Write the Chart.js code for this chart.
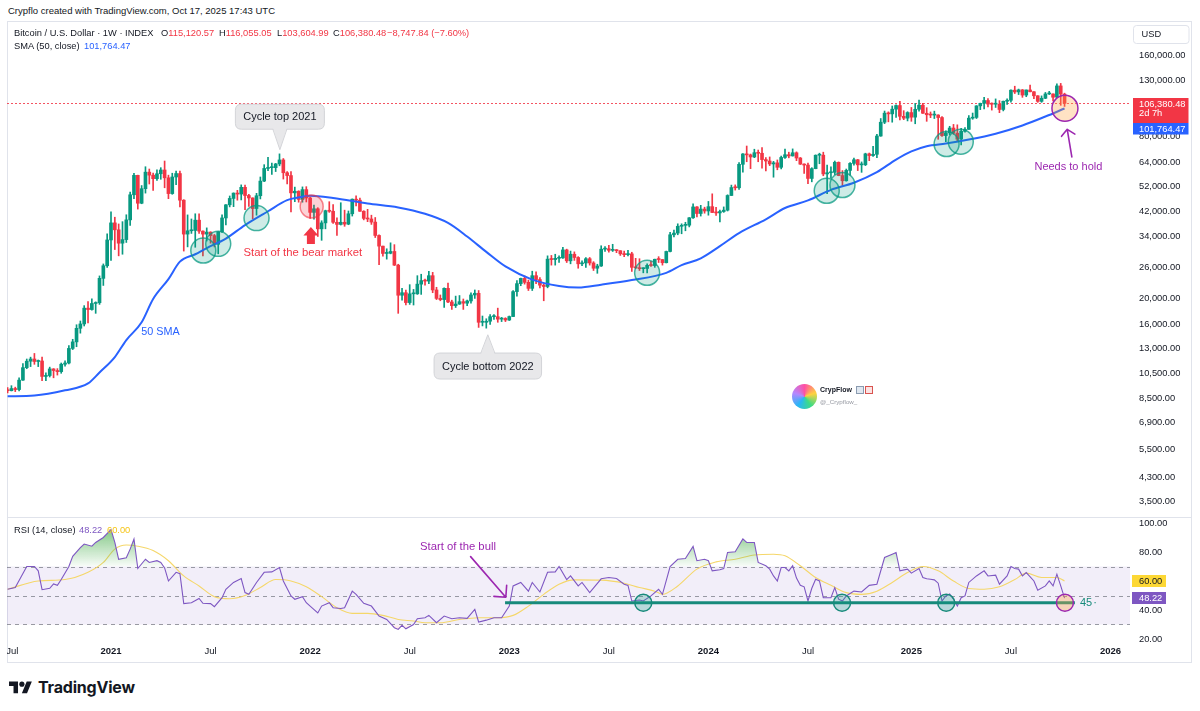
<!DOCTYPE html>
<html><head><meta charset="utf-8"><title>Bitcoin / U.S. Dollar 1W</title>
<script src="https://cdn.jsdelivr.net/npm/chart.js@4.4.1/dist/chart.umd.min.js"></script>
<style>
html,body{margin:0;padding:0;background:#fff}
body{position:relative;width:1200px;height:711px;overflow:hidden;font-family:"Liberation Sans",Arial,sans-serif;color:#131722}
.t{position:absolute;white-space:nowrap;font-size:9.3px;line-height:12px;z-index:5}
.r{color:#F23645}.b{color:#2962FF}
#frame{position:absolute;left:7px;top:21px;width:1185px;height:642px;border:1px solid #e0e3eb;box-sizing:border-box}
canvas{position:absolute}
#main{left:7px;top:21px}
#rsi{left:7px;top:517px}
#sep{position:absolute;left:7px;top:517px;width:1185px;height:1px;background:#e0e3eb;z-index:4}
</style></head><body>
<div class="t" style="left:8px;top:5px;font-size:9.5px">Crypflo created with TradingView.com, Oct 17, 2025 17:43 UTC</div>
<div id="frame"></div>
<canvas id="main" width="1185" height="496"></canvas>
<canvas id="rsi" width="1185" height="146"></canvas>
<div id="sep"></div>
<div class="t" style="left:14px;top:27px">Bitcoin / U.S. Dollar · 1W · INDEX</div>
<div class="t" id="lgO" style="left:161px;top:27px"></div>
<div class="t" id="lgH" style="left:219px;top:27px"></div>
<div class="t" id="lgL" style="left:277px;top:27px"></div>
<div class="t" id="lgC" style="left:333px;top:27px"></div>
<div class="t r" id="lgChg" style="left:387px;top:27px"></div>
<div class="t" style="left:14px;top:40px">SMA (50, close)</div>
<div class="t b" id="lgSma" style="left:84px;top:40px"></div>
<div class="t" style="left:14px;top:524px">RSI (14, close)</div>
<div class="t" id="lgRsi" style="left:79px;top:524px;color:#7E57C2"></div>
<div class="t" id="lgMa" style="left:107px;top:524px;color:#F5C518"></div>

<!-- watermark -->
<div style="position:absolute;left:792px;top:384px;width:25px;height:25px;border-radius:50%;background:conic-gradient(#ff4fa3,#ffd23f,#3ddc84,#29b6f6,#b388ff,#ff4fa3);z-index:3"></div>
<div class="t" style="left:820px;top:384px;font-size:7px;font-weight:bold">CrypFlow</div>
<div style="position:absolute;left:856px;top:386px;width:6px;height:6px;border:1px solid #8a9bb0;background:#dfe7f0;z-index:3"></div>
<div style="position:absolute;left:865px;top:386px;width:6px;height:6px;border:1px solid #d9534f;background:#fbe3e3;z-index:3"></div>
<div class="t" style="left:820px;top:396px;font-size:6.2px;color:#9598a1">@_Crypflow_</div>

<!-- TradingView logo -->
<svg style="position:absolute;left:9px;top:679px" width="23.2" height="18" viewBox="0 0 36 28"><path fill="#131722" d="M14 22H7V11H0V4h14v18zM28 22h-8l7.5-18h8L28 22z"/><circle fill="#131722" cx="20" cy="8" r="4"/></svg>
<div style="position:absolute;left:38px;top:677px;font-size:16px;font-weight:bold;color:#131722;font-family:Inter,'Liberation Sans',Arial,sans-serif;letter-spacing:-0.2px">TradingView</div>

<script>
// ---------------- DATA (weekly bars, first bar = week of 2020-06-29) ----------------
const firstWeek = '2020-06-29';
const opens = [9140,9070,9240,9160,9930,11050,11680,11900,11650,11700,
10250,10330,10930,10780,10680,11380,11500,13030,13780,15480,
16070,18400,18180,19150,19270,23750,26460,33000,38200,36000,
32100,33100,39200,48600,57400,45200,51200,59000,57500,55800,
58200,60100,56200,49100,56600,58300,46400,34700,35700,35800,
39100,35600,34700,35300,34250,31800,35400,39850,44600,47100,
49300,48900,51800,48300,47300,43200,48200,54650,60900,61300,
61320,63300,65500,58700,57300,49400,50100,46700,50800,47300,
41800,43100,36300,38200,42400,42200,38400,37700,38400,37800,
41300,46800,46400,42200,39700,39500,38460,34300,31300,29400,
29450,29900,26600,20550,21000,19300,20800,20800,22600,23300,
23200,24300,21500,20000,19800,21800,19400,18800,19050,19450,
19200,19570,20600,20900,16300,16300,16450,17100,17100,16750,
16850,16620,17120,21200,22700,23740,22950,21800,24300,23500,
22400,22150,28000,27900,28200,28300,30300,27600,29200,28400,
26900,27100,28100,27100,25900,26400,30500,30600,30200,30200,
30100,29300,29100,29300,26100,26000,25800,25850,26550,26500,
27970,27900,27150,29900,34500,35000,37100,37400,37450,39900,
43800,41400,43000,42300,43900,41750,41600,42100,42600,48300,
51700,51600,63100,68950,68400,67200,69700,69350,65700,64900,
63300,63900,61500,66900,68500,67800,69650,66600,63200,62700,
55900,60800,68200,68250,58100,58700,58900,64200,57300,54800,
59900,63600,65600,62800,62850,69000,68000,68750,80400,90500,
97800,97200,101200,104400,95200,93700,98300,94500,101100,104700,
97700,96500,96200,96250,94200,80700,82600,86100,82400,78300,
83700,85100,93700,94300,104100,106400,109000,105700,105600,105600,
100950,108300,109200,119100,117300,119400,114200,119300,117500,113500,
108200,111100,115300,115300,112100,123500,115120.57];
const highs = [9310,9470,9350,10130,11450,11900,12090,12480,11800,12090,
10580,11100,10960,10960,11500,11720,13350,14090,15960,16480,
18800,19480,19920,19420,24250,26870,34800,41950,40100,37850,
38600,40950,49700,58350,57500,52600,61800,60600,58500,60200,
61300,64900,57500,58450,59600,59600,46600,40900,39500,41300,
41300,35700,36600,35400,34600,35400,40900,44700,48100,49400,
50500,52900,52800,48800,47350,49200,56600,62900,67000,63700,
63600,69000,66300,59300,59300,51900,50300,52000,52100,47600,
44500,43500,38900,42600,45800,44700,39900,45400,42600,42300,
46900,48200,47200,42400,42900,40800,40000,34500,31300,30600,
32200,31700,26800,21800,21500,22500,21600,24300,24600,23600,
25200,25000,22000,20600,21900,22800,19700,20400,20500,19900,
19700,21000,21500,21400,17200,16800,17400,17400,18400,17000,
16950,17200,21400,23300,23800,24250,23400,25250,25100,23900,
22600,28800,28900,29200,28800,31000,30500,30000,29800,28600,
27600,28400,28400,27400,26800,31400,31200,31500,31800,30400,
30100,30000,30200,29700,28200,28100,26000,26900,27500,28000,
28600,27900,30000,35200,35900,37900,37900,38400,40000,45000,
43900,44400,43700,45900,49000,43600,42600,43800,48600,52800,
52900,64000,69200,73800,68900,71800,71300,72800,66800,67200,
64700,65500,67700,71900,70000,72000,70200,66900,63400,63800,
61300,68400,69400,70000,62700,61800,64900,64400,59800,60600,
64100,66500,65800,64400,69400,69500,73600,81500,93400,99600,
98900,104000,105000,108300,99900,99000,102700,106300,109500,106400,
102500,98800,99500,96500,95000,84000,87400,88800,88500,85900,
86500,95800,97900,104300,106600,111900,110700,106800,110500,108900,
108500,110600,119500,123200,120200,119800,119300,124500,117600,113600,
113400,116800,117900,115500,125700,126200,116055.05];
const lows = [8900,9050,9000,9050,9900,10950,11150,11370,11150,9890,
9880,10200,10130,10370,10530,11200,11400,12900,13220,14850,
15790,16200,18100,17600,19000,22350,26100,27700,30400,28800,
29200,32300,37400,47050,43000,45000,49300,53300,50400,55000,
55500,51600,47000,48800,53000,43800,30000,31100,34900,31000,
34900,28800,32700,32100,31100,29300,35200,37500,43800,43900,
46400,46500,42800,44000,39600,40800,46900,54400,59700,57800,
59300,62300,55600,53300,42000,45800,45600,45600,45700,39700,
39400,34000,32900,36300,41800,38000,34300,37500,37100,37600,
40500,44200,42100,39200,38600,37700,33700,26700,28700,28000,
29300,26500,17600,19700,18900,19000,18900,20700,20700,22400,
22700,21000,19800,19600,18500,19300,18200,18500,19000,18200,
18800,19200,20000,15600,15800,15500,16000,16700,16300,16400,
16400,16550,17100,20400,22300,22600,21400,21400,22700,21900,
19600,21900,26600,26600,27200,28200,27200,26900,27700,25900,
26500,26100,26600,25400,24800,26300,29900,29700,29900,29600,
28900,28600,28800,25200,25800,25400,24900,24900,26300,26100,
27200,26600,27100,29800,33900,34500,34800,35700,36900,39700,
40200,40500,41500,40800,41700,40700,38500,41800,42300,48300,
50600,50900,59000,64500,60800,66800,64500,61000,59600,62400,
56500,60200,60700,66300,66700,67700,65100,63000,58400,53500,
54300,60700,63400,57200,49100,56100,57800,57200,52600,54600,
57500,62700,59800,58900,62400,65100,67500,66800,80200,89400,
90800,90500,94200,92200,92500,91500,91200,89300,99500,97500,
91200,94100,93400,78200,80100,76600,81200,81600,77100,74500,
83100,85100,92800,93400,100800,101500,103100,100400,102700,98200,
99700,105300,107500,115700,114700,112000,112600,117200,110700,107300,
107300,110700,114700,108700,111600,104600,103604.99];
const closes = [9070,9240,9160,9930,11050,11680,11900,11650,11700,10250,
10330,10930,10780,10680,11380,11500,13030,13780,15480,16070,
18400,18180,19150,19270,23750,26460,33000,38200,36000,32100,
33100,39200,48600,57400,45200,51200,59000,57500,55800,58200,
60100,56200,49100,56600,58300,46400,34700,35700,35800,39100,
35600,34700,35300,34250,31800,35400,39850,44600,47100,49300,
48900,51800,48300,47300,43200,48200,54650,60900,61300,61320,
63300,65500,58700,57300,49400,50100,46700,50800,47300,41800,
43100,36300,38200,42400,42200,38400,37700,38400,37800,41300,
46800,46400,42200,39700,39500,38460,34300,31300,29400,29450,
29900,26600,20550,21000,19300,20800,20800,22600,23300,23200,
24300,21500,20000,19800,21800,19400,18800,19050,19450,19200,
19570,20600,20900,16300,16300,16450,17100,17100,16750,16850,
16620,17120,21200,22700,23740,22950,21800,24300,23500,22400,
22150,28000,27900,28200,28300,30300,27600,29200,28400,26900,
27100,28100,27100,25900,26400,30500,30600,30200,30200,30100,
29300,29100,29300,26100,26000,25800,25850,26550,26500,27970,
27900,27150,29900,34500,35000,37100,37400,37450,39900,43800,
41400,43000,42300,43900,41750,41600,42100,42600,48300,51700,
51600,63100,68950,68400,67200,69700,69350,65700,64900,63300,
63900,61500,66900,68500,67800,69650,66600,63200,62700,55900,
60800,68200,68250,58100,58700,58900,64200,57300,54800,59900,
63600,65600,62800,62850,69000,68000,68750,80400,90500,97800,
97200,101200,104400,95200,93700,98300,94500,101100,104700,97700,
96500,96200,96250,94200,80700,82600,86100,82400,78300,83700,
85100,93700,94300,104100,106400,109000,105700,105600,105600,100950,
108300,109200,119100,117300,119400,114200,119300,117500,113500,108200,
111100,115300,115300,112100,123500,115128.32,106380.48];

// SMA(50, close) (week index, value)
const smaWeek = [0,7,15,21,24,28,31,35,38,42,45,49,52,57,62,68,73,77,79,85,94,102,109,115,120,125,130,137,144,149,155,163,172,176,181,186,191,198,203,209,215,221,227,232,236,240,245,251,258,265,271,276];
const smaVal  = [8650,8700,9100,9650,10600,12100,14000,16300,19900,23600,27400,29200,30800,33400,37500,42200,46400,47800,48200,47300,45100,43600,41300,38200,34000,29800,26300,23500,22250,21960,22500,23400,24900,26600,28200,31300,35000,39400,43400,46300,50700,53900,59000,65700,70500,73700,75400,78000,82000,88000,95000,101764.47];

// RSI(14, close) (week index, value)
const rsiWeek = [0,2,5,7,8,9,11,12,13,14,16,17,19,20,22,23,25,27,28,29,31,32,33,34,36,37,39,40,41,42,44,45,46,48,50,51,53,54,56,57,59,61,62,63,65,67,69,71,72,74,75,77,78,79,81,82,84,85,87,88,90,91,93,95,97,99,101,102,103,104,106,107,109,110,112,114,116,118,120,122,123,125,127,129,131,132,134,136,137,139,141,143,144,146,147,149,150,152,155,157,159,161,162,163,165,166,168,170,171,173,175,177,179,180,182,183,184,186,187,188,190,192,193,195,196,198,199,200,201,202,203,204,205,206,207,208,209,210,211,212,213,214,215,216,217,218,219,221,223,225,227,229,231,232,233,235,236,238,239,240,241,242,243,244,245,246,247,248,249,250,251,253,255,256,258,259,261,262,263,264,265,266,268,269,271,272,273,274,275,276];
const rsiVal  = [54.3,55.5,70,70,67,54,55,58,57,61,70,77,83,85.5,84,86.6,90,95.4,86.6,75,76,82,89,68.6,75,72.8,74,72.8,69,60,66,65,44.4,45,48,44.6,44.4,42.3,48.5,54.3,59,61.7,52,50.8,59,66,66.3,69.3,60,49.7,47.4,49.2,45,42.7,38,42.7,45,41.6,41,41.6,53,50.8,44.6,42.7,35.8,33.5,27.8,26.6,29.4,27,30,34,34.7,36.3,31.2,35.8,34,34.7,34.2,40.4,31.7,33,34.7,34.7,42.7,56.6,59,53,59,52.4,66,66.3,70,61,63.5,56.6,59,52,61.5,62.4,61.7,57.8,57,46.2,46.9,46.2,49.7,54.3,50.8,70,75,75.5,83.9,74,75,74,67,67.7,68.6,79.7,80.2,89,86.6,86.6,72.8,70.5,68.2,63.5,60,69.3,69.3,67,70.5,62,57,56,46.2,55,61.2,60,48.5,48.5,48.5,55.5,47.5,46.2,49.7,53,52.4,57,57.8,76.2,78.5,79.7,67,68.2,65.4,68.6,62.4,61.5,61.2,60.8,58.5,46.2,49.7,51,47.4,42.7,48.5,49.7,59,63.5,67,63.5,64,57.8,63.5,70,68.6,68.2,63.5,65.8,60,53.6,56.6,60,56.6,64.7,56.6,48.22];

// RSI-based MA(14)
const rsiMaWeek = [0,8,15,21,25,28,31,34,38,42,46,50,54,58,62,66,70,74,78,82,86,90,94,98,102,106,109,113,118,123,128,132,136,140,144,148,155,161,165,169,171,175,180,185,190,195,200,203,207,211,215,219,223,227,231,235,239,243,247,251,255,259,263,266,270,274,276];
const rsiMaVal  = [54.3,60,61,66,72.8,82,84.8,84,81,74,63.5,56.6,49.2,47.8,50,55.5,61,60,56,49.2,41.6,37.7,37.7,36.3,33.5,32.4,31.2,31.2,33.5,34.7,34.7,36.3,42.7,50.8,57.8,60.8,60.6,58.5,55.5,53,50.8,56.6,68.2,73.2,75,77.9,78.5,77.4,70.5,62.4,57,52,50.8,53,59,65.8,70,67,60,54.8,54.3,56,61,65.4,62.4,62.4,60];

const priceTicks = [3500,4300,5500,6900,8500,10500,13000,16000,20000,26000,34000,42000,52000,64000,80000,130000,160000];
const rsiTicks = [20,40,60,80,100];
const timeTickWeek  = [1.25,27,53,79,105,131,157,183,209,236,262,288];
const timeTickLabel = ['Jul','2021','Jul','2022','Jul','2023','Jul','2024','Jul','2025','Jul','2026'];
const barCountdown = '2d 7h';

// ---------------- layout / style ----------------
const FONT = '"Liberation Sans", Arial, sans-serif';
Chart.defaults.font.family = FONT;
Chart.defaults.color = '#131722';
const X_MIN = -0.157, X_MAX = 293.09;
const Y_MIN = 3073.8, Y_MAX = 215400;
const R_MIN = 17.93, R_MAX = 104.14;
const UP = '#089981', DOWN = '#F23645', SMA_C = '#2962FF', RSI_C = '#7E57C2', MA_C = '#F5D76A', TEAL = '#178a7b', PURPLE = '#9c27b0';
const fmt2 = v => v.toLocaleString('en-US',{minimumFractionDigits:2, maximumFractionDigits:2});
const last = closes.length - 1;
const candleColors = closes.map((c,i) => c >= opens[i] ? UP : DOWN);

// legends
const chg = closes[last] - closes[last-1];
const pct = chg / closes[last-1] * 100;
document.getElementById('lgO').innerHTML = 'O<span class="r">' + fmt2(opens[last]) + '</span>';
document.getElementById('lgH').innerHTML = 'H<span class="r">' + fmt2(highs[last]) + '</span>';
document.getElementById('lgL').innerHTML = 'L<span class="r">' + fmt2(lows[last]) + '</span>';
document.getElementById('lgC').innerHTML = 'C<span class="r">' + fmt2(closes[last]) + '</span>';
document.getElementById('lgChg').textContent = '\u2212' + fmt2(Math.abs(chg)) + ' (\u2212' + Math.abs(pct).toFixed(2) + '%)';
document.getElementById('lgSma').textContent = fmt2(smaVal[smaVal.length-1]);
document.getElementById('lgRsi').textContent = rsiVal[rsiVal.length-1].toFixed(2);
document.getElementById('lgMa').textContent = rsiMaVal[rsiMaVal.length-1].toFixed(2);

// ---------------- drawing helpers ----------------
function rr(ctx,x,y,w,h,r){ctx.beginPath();ctx.moveTo(x+r,y);ctx.lineTo(x+w-r,y);ctx.quadraticCurveTo(x+w,y,x+w,y+r);ctx.lineTo(x+w,y+h-r);ctx.quadraticCurveTo(x+w,y+h,x+w-r,y+h);ctx.lineTo(x+r,y+h);ctx.quadraticCurveTo(x,y+h,x,y+h-r);ctx.lineTo(x,y+r);ctx.quadraticCurveTo(x,y,x+r,y);ctx.closePath();}
function circ(ctx,x,y,r,fill,stroke,lw){ctx.beginPath();ctx.arc(x,y,r,0,Math.PI*2);ctx.fillStyle=fill;ctx.fill();ctx.lineWidth=lw;ctx.strokeStyle=stroke;ctx.stroke();}
function txt(ctx,s,x,y,color,size,align,weight){ctx.font=(weight||'normal')+' '+size+'px '+FONT;ctx.fillStyle=color;ctx.textAlign=align||'center';ctx.textBaseline='middle';ctx.fillText(s,x,y);}
function callout(ctx,cx,tipY,label,w,h,gap,up){
  const top = up ? tipY+gap : tipY-gap-h, x0 = cx-w/2;
  ctx.save();
  ctx.fillStyle='#e8e8ea'; ctx.strokeStyle='#d3d4d8'; ctx.lineWidth=1;
  rr(ctx,x0,top,w,h,6); ctx.fill(); ctx.stroke();
  const by = up ? top+1.5 : top+h-1.5;
  ctx.beginPath(); ctx.moveTo(cx-7,by); ctx.lineTo(cx,tipY); ctx.lineTo(cx+7,by); ctx.closePath(); ctx.fill();
  ctx.beginPath(); ctx.moveTo(cx-7,up?top:top+h); ctx.lineTo(cx,tipY); ctx.lineTo(cx+7,up?top:top+h); ctx.stroke();
  txt(ctx,label,cx,top+h/2+0.5,'#131722',11);
  ctx.restore();
}
function lineArrow(ctx,x1,y1,x2,y2,color,lw,head,ang){
  const a=Math.atan2(y2-y1,x2-x1);
  ctx.save(); ctx.strokeStyle=color; ctx.lineWidth=lw; ctx.lineCap='round'; ctx.lineJoin='round';
  ctx.beginPath(); ctx.moveTo(x1,y1); ctx.lineTo(x2,y2);
  ctx.moveTo(x2-head*Math.cos(a-ang), y2-head*Math.sin(a-ang)); ctx.lineTo(x2,y2); ctx.lineTo(x2-head*Math.cos(a+ang), y2-head*Math.sin(a+ang));
  ctx.stroke(); ctx.restore();
}

// ---------------- main (price) pane ----------------
const mainAnn = {
  id:'mainAnn',
  beforeDatasetsDraw(chart){
    const {ctx, chartArea:a, scales:{y}} = chart;
    const py = Math.round(y.getPixelForValue(closes[last]))+0.5;
    ctx.save(); ctx.strokeStyle='rgba(242,54,69,0.85)'; ctx.lineWidth=1; ctx.setLineDash([2,2]);
    ctx.beginPath(); ctx.moveTo(a.left,py); ctx.lineTo(a.right,py); ctx.stroke(); ctx.restore();
  },
  afterDatasetsDraw(chart){
    const {ctx, scales:{x,y}} = chart;
    const X = v => x.getPixelForValue(v), Y = v => y.getPixelForValue(v);
    ctx.save();
    // support touches
    [[51.1,30140],[55.0,31920],[65.0,39790],[167.0,24910],[213.9,50300],[218.0,52840],[245.2,75060],[248.9,76570]]
      .forEach(([w,p]) => circ(ctx,X(w),Y(p),12.5,'rgba(8,153,129,0.2)','rgba(8,153,129,0.75)',1.5));
    circ(ctx,X(79.4),Y(43960),11.5,'rgba(242,54,69,0.22)','rgba(242,54,69,0.6)',1.5);
    circ(ctx,X(276.1),Y(101960),13,'rgba(255,160,60,0.3)',PURPLE,1.5);
    // callouts
    callout(ctx,X(71.1),Y(71500),'Cycle top 2021',89,25,20.5,false);
    callout(ctx,X(125.4),Y(14650),'Cycle bottom 2022',107.5,26,18.3,true);
    // texts
    txt(ctx,'Start of the bear market',X(77.1),Y(29480),DOWN,11.3);
    txt(ctx,'50 SMA',X(39.9),Y(15030),SMA_C,10.8);
    txt(ctx,'Needs to hold',X(277.0),Y(61660),PURPLE,11);
    // red block arrow
    const tx=X(79.2), ty=Y(36880);
    ctx.fillStyle=DOWN; ctx.beginPath();
    ctx.moveTo(tx,ty); ctx.lineTo(tx+7.5,ty+8.5); ctx.lineTo(tx+4,ty+8.5); ctx.lineTo(tx+4,ty+17); ctx.lineTo(tx-4,ty+17); ctx.lineTo(tx-4,ty+8.5); ctx.lineTo(tx-7.5,ty+8.5); ctx.closePath(); ctx.fill();
    // purple arrow
    lineArrow(ctx,X(277.9),Y(67210),X(276.7),Y(85140),PURPLE,1.6,9,0.85);
    ctx.restore();
  },
  afterDraw(chart){
    const {ctx, chartArea:a, scales:{y}} = chart;
    const bx = a.right+3, bw = 55.5, tx = a.right+9;
    ctx.save();
    // USD box
    ctx.fillStyle='#fff'; ctx.strokeStyle='#e0e3eb'; ctx.lineWidth=1;
    rr(ctx,bx+0.5,4.5,bw,18,3); ctx.fill(); ctx.stroke();
    txt(ctx,'USD',tx+2.5,13.5,'#131722',9.3,'left');
    // last price / SMA labels
    const py = y.getPixelForValue(closes[last]);
    const top = Math.round(py-5);
    ctx.fillStyle=DOWN; ctx.fillRect(bx,top,bw,25);
    txt(ctx,fmt2(closes[last]),tx,top+6.5,'#fff',9.3,'left');
    txt(ctx,barCountdown,tx,top+15.5,'#fff',9.3,'left');
    ctx.fillStyle=SMA_C; ctx.fillRect(bx,top+25,bw,11.5);
    txt(ctx,fmt2(smaVal[smaVal.length-1]),tx,top+31,'#fff',9.3,'left');
    ctx.restore();
  }
};

new Chart(document.getElementById('main').getContext('2d'), {
  type:'bar',
  data:{datasets:[
    {type:'line', label:'SMA 50', data: smaWeek.map((w,i)=>({x:w,y:smaVal[i]})), borderColor:SMA_C, borderWidth:2, pointRadius:0, cubicInterpolationMode:'monotone', order:1},
    {label:'wick', data: closes.map((c,i)=>({x:i,y:[lows[i],highs[i]]})), backgroundColor:candleColors, barThickness:1, grouped:false, order:3},
    {label:'body', data: closes.map((c,i)=>({x:i,y:[opens[i],c]})), backgroundColor:candleColors, barThickness:3, minBarLength:1, grouped:false, order:2}
  ]},
  options:{
    responsive:false, animation:false, devicePixelRatio:1,
    layout:{padding:0},
    plugins:{legend:{display:false}, tooltip:{enabled:false}},
    scales:{
      x:{type:'linear', min:X_MIN, max:X_MAX, display:false, offset:false},
      y:{type:'logarithmic', position:'right', min:Y_MIN, max:Y_MAX,
        grid:{display:false, drawTicks:false}, border:{display:false},
        afterBuildTicks: s => { s.ticks = priceTicks.map(v=>({value:v})); },
        afterFit: s => { s.width = 62; s.paddingTop = 0; s.paddingBottom = 0; },
        ticks:{autoSkip:false, crossAlign:'near', padding:9, color:'#131722', font:{size:9.3}, callback: v => fmt2(v)}
      }
    }
  },
  plugins:[mainAnn]
});

// ---------------- RSI pane ----------------
const rctx = document.getElementById('rsi').getContext('2d');
const greenGrad = rctx.createLinearGradient(0,6,0,49.5);
greenGrad.addColorStop(0,'rgba(76,175,80,0.8)'); greenGrad.addColorStop(1,'rgba(76,175,80,0.04)');
const redGrad = rctx.createLinearGradient(0,107.5,0,125);
redGrad.addColorStop(0,'rgba(242,54,69,0.04)'); redGrad.addColorStop(1,'rgba(242,54,69,0.5)');

const rsiAnn = {
  id:'rsiAnn',
  beforeDatasetsDraw(chart){
    const {ctx, chartArea:a, scales:{y}} = chart;
    ctx.save();
    ctx.fillStyle='rgba(126,87,194,0.1)';
    ctx.fillRect(a.left, y.getPixelForValue(70), a.right-a.left, y.getPixelForValue(30)-y.getPixelForValue(70));
    ctx.strokeStyle='rgba(120,123,134,0.75)'; ctx.lineWidth=1; ctx.setLineDash([4,4]);
    [70,50,30].forEach(v => { const py=Math.round(y.getPixelForValue(v))+0.5; ctx.beginPath(); ctx.moveTo(a.left,py); ctx.lineTo(a.right,py); ctx.stroke(); });
    ctx.restore();
  },
  afterDatasetsDraw(chart){
    const {ctx, scales:{x,y}} = chart;
    const X = v => x.getPixelForValue(v), Y = v => y.getPixelForValue(v);
    ctx.save();
    ctx.strokeStyle=TEAL; ctx.lineWidth=3;
    ctx.beginPath(); ctx.moveTo(X(129.9),Y(45)); ctx.lineTo(X(278.7),Y(45)); ctx.stroke();
    [166.0,217.9,245.1].forEach(w => circ(ctx,X(w),Y(45),8.5,'rgba(8,153,129,0.25)',TEAL,1.5));
    circ(ctx,X(276.1),Y(45),8.5,'rgba(255,160,60,0.35)',PURPLE,1.5);
    txt(ctx,'45',X(281.6),Y(45)+0.5,TEAL,11);
    txt(ctx,'\u00b7',X(284.0),Y(45),TEAL,11);
    txt(ctx,'Start of the bull',X(117.6),Y(83.4),PURPLE,11.3);
    lineArrow(ctx,X(120.9),Y(76.8),X(130.1),Y(48.8),PURPLE,1.6,12,0.785);
    ctx.restore();
  },
  afterDraw(chart){
    const {ctx, chartArea:a, scales:{y}} = chart;
    const bx=a.right+2, tx=a.right+9;
    ctx.save();
    let py=y.getPixelForValue(rsiMaVal[rsiMaVal.length-1]);
    ctx.fillStyle='#FDD835'; ctx.fillRect(bx,Math.round(py-6),34,12);
    txt(ctx,rsiMaVal[rsiMaVal.length-1].toFixed(2),tx,py,'#131722',9.3,'left');
    py=y.getPixelForValue(rsiVal[rsiVal.length-1]);
    ctx.fillStyle=RSI_C; ctx.fillRect(bx,Math.round(py-6),34,12);
    txt(ctx,rsiVal[rsiVal.length-1].toFixed(2),tx,py,'#fff',9.3,'left');
    ctx.restore();
  }
};

const rsiPts = rsiWeek.map((w,i)=>({x:w,y:rsiVal[i]}));
new Chart(rctx, {
  type:'line',
  data:{datasets:[
    {label:'RSI', data:rsiPts, borderColor:RSI_C, borderWidth:1.1, pointRadius:0, tension:0, fill:{target:{value:70}, above:greenGrad, below:'rgba(0,0,0,0)'}, order:1},
    {label:'RSI os', data:rsiPts, borderWidth:0, borderColor:'rgba(0,0,0,0)', pointRadius:0, tension:0, fill:{target:{value:30}, above:'rgba(0,0,0,0)', below:redGrad}, order:3},
    {label:'RSI MA', data:rsiMaWeek.map((w,i)=>({x:w,y:rsiMaVal[i]})), borderColor:MA_C, borderWidth:1.1, pointRadius:0, cubicInterpolationMode:'monotone', fill:false, order:2}
  ]},
  options:{
    responsive:false, animation:false, devicePixelRatio:1,
    layout:{padding:0},
    plugins:{legend:{display:false}, tooltip:{enabled:false}},
    scales:{
      x:{type:'linear', min:X_MIN, max:X_MAX, position:'bottom',
        grid:{display:false, drawTicks:false}, border:{display:false},
        afterBuildTicks: s => { s.ticks = timeTickWeek.map(v=>({value:v})); },
        afterFit: s => { s.height = 21; s.paddingLeft = 0; s.paddingRight = 0; },
        ticks:{autoSkip:false, maxRotation:0, minRotation:0, padding:4, color:'#131722',
          font: c => ({size:9.5, weight: /^\d/.test(timeTickLabel[c.index]||'') ? 'bold' : 'normal'}),
          callback:(v,i) => timeTickLabel[i]}
      },
      y:{type:'linear', position:'right', min:R_MIN, max:R_MAX,
        grid:{display:false, drawTicks:false}, border:{display:false},
        afterBuildTicks: s => { s.ticks = rsiTicks.map(v=>({value:v})); },
        afterFit: s => { s.width = 62; s.paddingTop = 0; s.paddingBottom = 0; },
        ticks:{autoSkip:false, crossAlign:'near', padding:9, color:'#131722', font:{size:9.3}, callback: v => v.toFixed(2)}
      }
    }
  },
  plugins:[rsiAnn]
});
</script>
</body></html>
